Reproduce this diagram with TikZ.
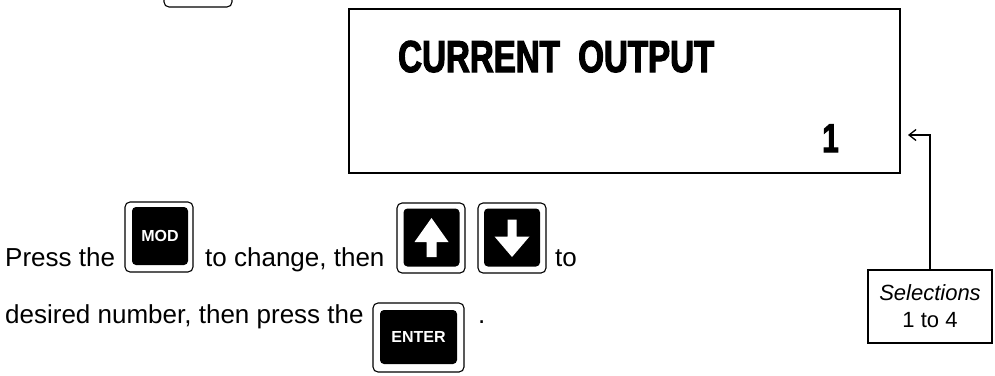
\documentclass[tikz,border=0pt]{standalone}
\usepackage{fontspec}
\setmainfont{Liberation Sans}
\newfontfamily\condfont[FakeStretch=0.74, FakeBold=2.5]{Liberation Sans Bold}
\usetikzlibrary{arrows.meta}
\tikzset{
  every key/.style={
    draw,
    line width=1.1pt,
    rounded corners=5pt,
    minimum width=68pt,
    minimum height=70pt,
    inner sep=0pt
  },
  every face/.style={
    fill=black,
    rounded corners=4pt,
    minimum width=56pt,
    minimum height=58pt,
    inner sep=0pt,
    text=white,
    font=\bfseries\fontsize{16}{16}\selectfont
  },
  every line/.style={
    anchor=base west,
    inner sep=0pt,
    font=\fontsize{26}{30}\selectfont
  },
  pointer/.style={
    line width=1.3pt,
    -{Straight Barb[length=7pt,width=11pt,line width=1.3pt]}
  }
}

\begin{document}
\begin{tikzpicture}[x=1pt, y=-1pt]
  \useasboundingbox (0,0) rectangle (995,375);
  \clip (0,0) rectangle (995,375);

  % Display
  \node [draw, line width=1.4pt, minimum width=551pt, minimum height=164pt, inner sep=0pt] (disp) at (624.5,91) {};
  \node [anchor=base west, inner sep=0pt, font=\condfont\fontsize{44.7}{50}\selectfont] (title) at (398,72) {CURRENT\ \ OUTPUT};
  \node [anchor=base east, inner sep=0pt, font=\condfont\fontsize{40}{46}\selectfont] (value) at (839,152) {1};

  % Selections
  \node [draw, line width=1.3pt, minimum width=124pt, minimum height=73pt, align=center, inner sep=0pt, font=\fontsize{22}{27}\selectfont] (sel) at (930,306.5) {\textit{Selections}\\1 to 4};
  \coordinate (tip) at (908,135);

  % Keys
  \node [every key] (prev) at (198,-28) {};
  \node [every key] (mod) at (159,237) {};
  \node [every face] (modface) at (160,236) {MOD};
  \node [every key] (up) at (431,238) {};
  \node [every face] (upface) at (431.5,237.5) {};
  \node [every key] (down) at (512,238) {};
  \node [every face] (downface) at (512,237.5) {};
  \node [every key, minimum width=91pt, minimum height=69pt] (enter) at (418.5,337.5) {};
  \node [every face, minimum width=77pt, minimum height=54pt] (enterface) at (418.5,337) {ENTER};

  \fill[white, shift={(upface.center)}] (0,-19.5) -- (17,4.5) -- (5,4.5) -- (5,19.5) -- (-5,19.5) -- (-5,4.5) -- (-17,4.5) -- cycle;
  \fill[white, shift={(downface.center)}] (0,19.5) -- (17.5,-1) -- (4.5,-1) -- (4.5,-18) -- (-4.5,-18) -- (-4.5,-1) -- (-17.5,-1) -- cycle;

  % Text
  \node [every line] (l1a) at (5,266) {Press the};
  \node [every line] (l1b) at (205,266) {to change, then};
  \node [every line] (l1c) at (555,266) {to};
  \node [every line] (l2a) at (5,323) {desired number, then press the};
  \node [every line] (l2b) at (478,323) {.};

  % Arrows
  \draw[pointer] (sel.north) |- (tip);
\end{tikzpicture}
\end{document}
